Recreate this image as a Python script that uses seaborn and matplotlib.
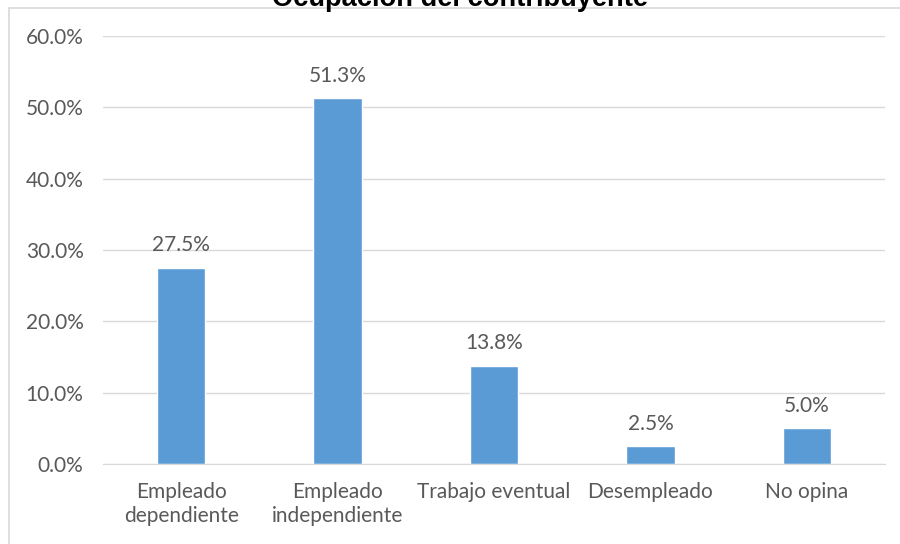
import seaborn as sns
import pandas as pd
import matplotlib.pyplot as plt
from matplotlib.lines import Line2D
from matplotlib.ticker import FuncFormatter

categorias = ["Empleado\ndependiente", "Empleado\nindependiente", "Trabajo eventual", "Desempleado", "No opina"]
porcentajes = [0.275, 0.513, 0.138, 0.025, 0.050]
etiquetas = ["27.5%", "51.3%", "13.8%", "2.5%", "5.0%"]
titulo = "Ocupación del contribuyente"

sns.set_style("white")
plt.rcParams['font.family'] = ['Lato', 'DejaVu Sans']

df = pd.DataFrame({"cat": categorias, "pct": porcentajes})
gris = "#595959"

fig = plt.figure(figsize=(9, 5.44), dpi=100)
ax = fig.add_axes([103/900, 80/544, 782/900, 428/544])

sns.barplot(data=df, x="cat", y="pct", color="#5B9BD5", saturation=1, width=0.31, ax=ax)

ax.set_ylim(0, 0.6)
ax.set_xlim(-0.5, 4.5)
ax.set_yticks([0, 0.1, 0.2, 0.3, 0.4, 0.5, 0.6])
ax.yaxis.set_major_formatter(FuncFormatter(lambda v, p: "%.1f%%" % (v * 100)))
ax.grid(axis="y", color="#D9D9D9", linewidth=1)
ax.set_axisbelow(True)
for s in ["top", "right", "left"]:
    ax.spines[s].set_visible(False)
ax.spines["bottom"].set_color("#D9D9D9")
ax.tick_params(axis="both", length=0, labelsize=15, labelcolor=gris)
ax.tick_params(axis="y", pad=14)
ax.tick_params(axis="x", pad=13)
for lab in ax.get_xticklabels():
    lab.set_linespacing(1.25)
ax.set_xlabel("")
ax.set_ylabel("")

for i, (v, t) in enumerate(zip(porcentajes, etiquetas)):
    ax.annotate(t, (i, v), xytext=(0, 9), textcoords="offset points",
                ha="center", va="bottom", fontsize=15, color=gris)

# borde del area del grafico
fig.add_artist(Line2D([9/900, 9/900], [0, 1 - 8/544], color="#D9D9D9", linewidth=1.2))
fig.add_artist(Line2D([9/900, 1], [1 - 8/544, 1 - 8/544], color="#D9D9D9", linewidth=1.2))

fig.text(460/900, 1 - 6/544, titulo, ha="center", va="baseline", fontsize=19.6,
         fontweight="bold", family=["Liberation Sans", "DejaVu Sans"], color="#000000")

fig.savefig("out.png", dpi=100)
